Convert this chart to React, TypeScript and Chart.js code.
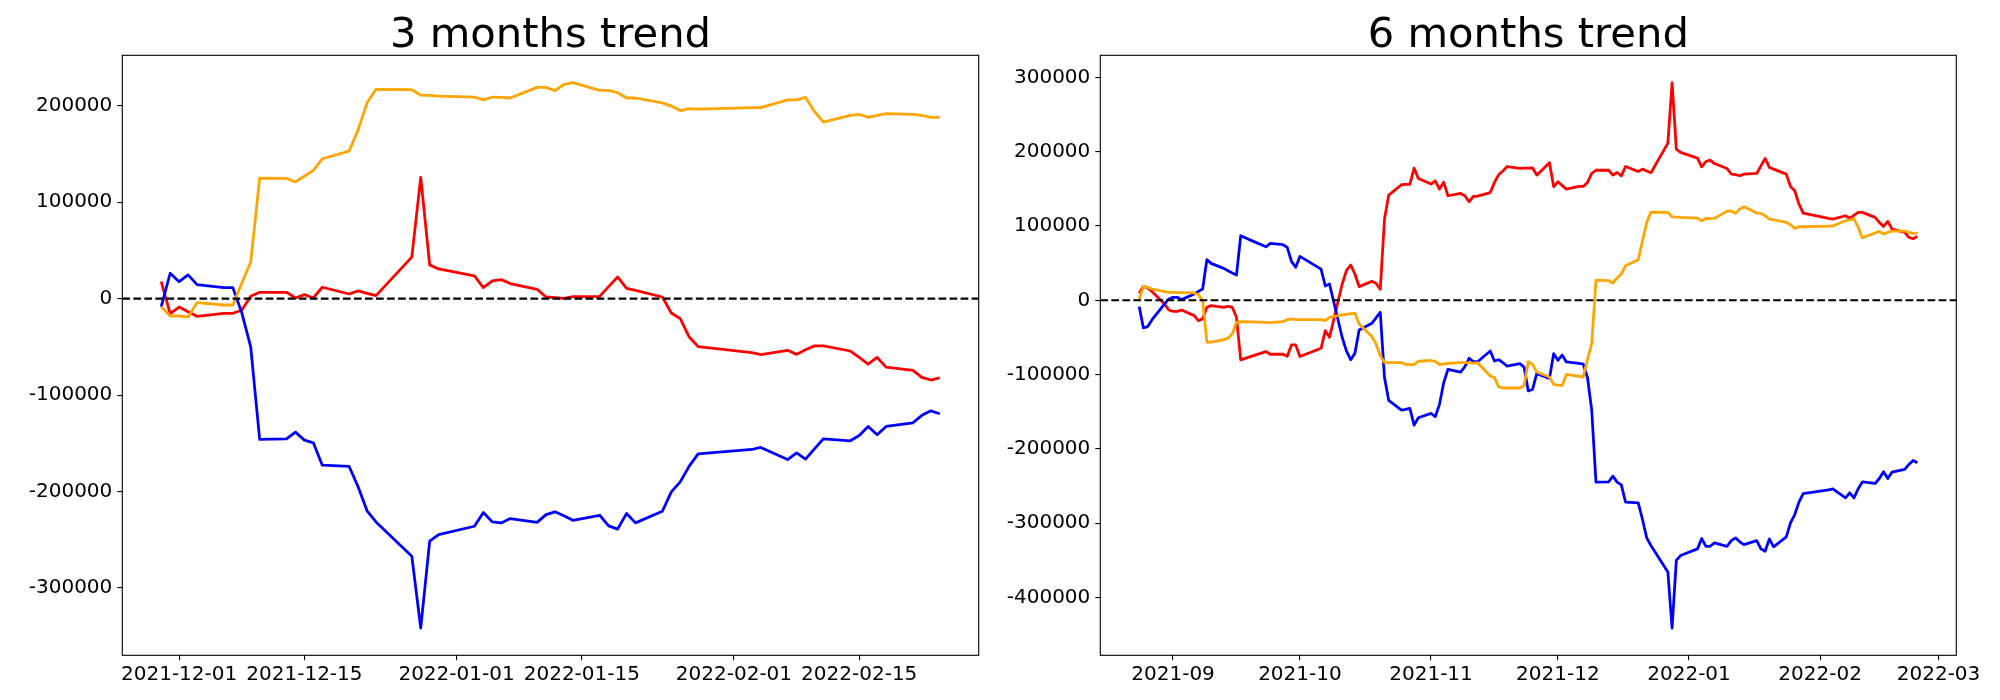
import React, { useEffect, useRef } from 'react';
import { Chart, registerables } from 'chart.js';

Chart.register(...registerables);

const FONT = "'DejaVu Sans', sans-serif";

// ---------- 3 months trend ----------
const dates3m = [
  '2021-11-29', '2021-11-30',
  '2021-12-01', '2021-12-02', '2021-12-03', '2021-12-06', '2021-12-07', '2021-12-08', '2021-12-09', '2021-12-10',
  '2021-12-13', '2021-12-14', '2021-12-15', '2021-12-16', '2021-12-17', '2021-12-20', '2021-12-21', '2021-12-22',
  '2021-12-23', '2021-12-27', '2021-12-28', '2021-12-29', '2021-12-30',
  '2022-01-03', '2022-01-04', '2022-01-05', '2022-01-06', '2022-01-07', '2022-01-10', '2022-01-11', '2022-01-12',
  '2022-01-13', '2022-01-14', '2022-01-17', '2022-01-18', '2022-01-19', '2022-01-20', '2022-01-21', '2022-01-24',
  '2022-01-25', '2022-01-26', '2022-01-27', '2022-01-28',
  '2022-02-03', '2022-02-04', '2022-02-07', '2022-02-08', '2022-02-09', '2022-02-10', '2022-02-11', '2022-02-14',
  '2022-02-15', '2022-02-16', '2022-02-17', '2022-02-18', '2022-02-21', '2022-02-22', '2022-02-23', '2022-02-24',
];

const orange3m = [
  -8300, -18000, -18000, -19000, -4200, -6600, -6600, 16000, 38000, 125000,
  124600, 121000, 127000, 133000, 145000, 153000, 175000, 203000, 217000, 216600,
  211000, 210700, 210000, 209000, 206000, 209000, 208600, 208000, 219000, 219000,
  215600, 222000, 224000, 216000, 216000, 213500, 208000, 208000, 203000, 199600,
  195000, 197000, 196500, 198000, 198000, 206000, 206000, 208600, 194000, 183000,
  190000, 191000, 188000, 190000, 191700, 191000, 190000, 188000, 188000,
];

const red3m = [
  17600, -15600, -8700, -13500, -18300, -15200, -15200, -12000, 2400, 6600,
  6600, 700, 4200, 700, 11800, 4800, 8000, 5500, 3100, 43000,
  125600, 35000, 30800, 23500, 11400, 18300, 19700, 15600, 9700, 1700,
  1000, 300, 2000, 2400, 12500, 22500, 10700, 8600, 1700, -14900,
  -20800, -39800, -49800, -56000, -58000, -53600, -57800, -53000, -49000, -49000,
  -54300, -61000, -68000, -61000, -71000, -74400, -81600, -84400, -82000,
];

const blue3m = [
  -8300, 26300, 17600, 24600, 14500, 11400, 11400, -14500, -50000, -146000,
  -145500, -138400, -146700, -149500, -172700, -174000, -195000, -220000, -231500, -267000,
  -341500, -251500, -244600, -236000, -221800, -231500, -232500, -228000, -232000, -223900,
  -221000, -225000, -229800, -224600, -235600, -239000, -222800, -232500, -220400, -200300,
  -190000, -173700, -161000, -156400, -154300, -166800, -160000, -166400, -155700, -145300,
  -147400, -141900, -132500, -141200, -132500, -128700, -121000, -116300, -119400,
];

const xTicks3m = ['2021-12-01', '2021-12-15', '2022-01-01', '2022-01-15', '2022-02-01', '2022-02-15'];
const xTickLabels3m = ['2021-12-01', '2021-12-15', '2022-01-01', '2022-01-15', '2022-02-01', '2022-02-15'];
const yTicks3m = [-300000, -200000, -100000, 0, 100000, 200000];

// ---------- 6 months trend ----------
const dates6m = [
  '2021-08-24', '2021-08-25', '2021-08-26', '2021-08-27', '2021-08-30', '2021-08-31',
  '2021-09-01', '2021-09-02', '2021-09-03', '2021-09-06', '2021-09-07', '2021-09-08', '2021-09-09', '2021-09-10',
  '2021-09-13', '2021-09-14', '2021-09-15', '2021-09-16', '2021-09-17', '2021-09-20', '2021-09-23', '2021-09-24',
  '2021-09-27', '2021-09-28', '2021-09-29', '2021-09-30',
  '2021-10-01', '2021-10-06', '2021-10-07', '2021-10-08', '2021-10-11', '2021-10-12', '2021-10-13', '2021-10-14',
  '2021-10-15', '2021-10-18', '2021-10-19', '2021-10-20', '2021-10-21', '2021-10-22', '2021-10-25', '2021-10-26',
  '2021-10-27', '2021-10-28', '2021-10-29',
  '2021-11-01', '2021-11-02', '2021-11-03', '2021-11-04', '2021-11-05', '2021-11-08', '2021-11-09', '2021-11-10',
  '2021-11-11', '2021-11-12', '2021-11-15', '2021-11-16', '2021-11-17', '2021-11-18', '2021-11-19', '2021-11-22',
  '2021-11-23', '2021-11-24', '2021-11-25', '2021-11-26', '2021-11-29', '2021-11-30',
  '2021-12-01', '2021-12-02', '2021-12-03', '2021-12-06', '2021-12-07', '2021-12-08', '2021-12-09', '2021-12-10',
  '2021-12-13', '2021-12-14', '2021-12-15', '2021-12-16', '2021-12-17', '2021-12-20', '2021-12-21', '2021-12-22',
  '2021-12-23', '2021-12-27', '2021-12-28', '2021-12-29', '2021-12-30',
  '2022-01-03', '2022-01-04', '2022-01-05', '2022-01-06', '2022-01-07', '2022-01-10', '2022-01-11', '2022-01-12',
  '2022-01-13', '2022-01-14', '2022-01-17', '2022-01-18', '2022-01-19', '2022-01-20', '2022-01-21', '2022-01-24',
  '2022-01-25', '2022-01-26', '2022-01-27', '2022-01-28',
  '2022-02-03', '2022-02-04', '2022-02-07', '2022-02-08', '2022-02-09', '2022-02-10', '2022-02-11', '2022-02-14',
  '2022-02-15', '2022-02-16', '2022-02-17', '2022-02-18', '2022-02-21', '2022-02-22', '2022-02-23', '2022-02-24',
];

const red6m = [
  // Aug
  9400, 18800, 16600, 12000, -4900, -13000,
  // Sep
  -14800, -14800, -13000, -20600, -27300, -25000, -9400, -7200, -9400, -8000,
  -9400, -22800, -80200, -74400, -69000, -72600, -72600, -75300, -60000, -60000,
  // Oct
  -75700, -64500, -40800, -49700, 22000, 39900, 47500, 35400, 18400, 25500,
  22800, 14800, 109300, 141600, 155500, 156000, 156000, 177900, 164000,
  // Nov
  156400, 160800, 149600, 159000, 140700, 143800, 140700, 132600, 139800, 140200,
  145000, 158600, 168900, 174000, 180000, 177600, 178000, 178000, 178300, 168400,
  185000, 152800,
  // Dec
  159500, 154600, 149600, 153200, 153200, 158600, 170700, 175000, 175000, 168400,
  172000, 167500, 180000, 173400, 176500, 174000, 171600, 211500, 293000, 203400,
  199000,
  // Jan
  191300, 179600, 186800, 188600, 184000, 177400, 169800, 169000, 167600, 169800,
  170700, 181000, 190800, 178800, 176500, 169800, 153200, 147400, 129500, 117400,
  // Feb
  110200, 109300, 113800, 110200, 114200, 118300, 118300, 111600, 104800, 99500,
  106200, 95900, 91400, 84700, 82900, 86000,
];

const orange6m = [
  // Aug
  1800, 18800, 17500, 15200, 11600, 10800,
  // Sep
  10800, 10300, 10300, 9900, 7600, -400, -56400, -56400, -52900, -51000,
  -45200, -29600, -28700, -29000, -29600, -30000, -28700, -26000, -25000, -26000,
  // Oct
  -26000, -26000, -27300, -22800, -19700, -18800, -18000, -17500, -31800, -48800,
  -58700, -74400, -83800, -83800, -83800, -86500, -86500, -86500, -82000,
  // Nov
  -81000, -82000, -86500, -85600, -85000, -84000, -83800, -83800, -84700, -84000,
  -101900, -104000, -116300, -118000, -118000, -118000, -114500, -82600, -86200, -96500,
  -103300, -113000,
  // Dec
  -114000, -114500, -99700, -102400, -103300, -79500, -58000, 27300, 26400, 23300,
  30000, 35400, 46600, 54700, 80200, 104800, 118700, 118300, 112400, 112000,
  111600,
  // Jan
  110700, 107000, 110200, 109800, 110200, 120000, 120000, 117000, 122800, 125900,
  117400, 117000, 113800, 109300, 108400, 104800, 101700, 96800, 99000, 99000,
  // Feb
  99900, 99900, 107000, 108400, 109800, 98000, 84200, 90500, 92700, 89200,
  91400, 93200, 93200, 91400, 90000, 90000,
];

const blue6m = [
  // Aug
  -8500, -37200, -35400, -26400, -4900, 1800,
  // Sep
  4000, 4000, 900, 8500, 12000, 15200, 54700, 49700, 43000, 39900,
  36700, 34000, 86900, 79300, 72000, 76600, 74800, 71200, 52400, 44400,
  // Oct
  59100, 42000, 19300, 22000, -50000, -68000, -80000, -71400, -39900, -30900,
  -23700, -16100, -104000, -134700, -147700, -146800, -145500, -168000, -158000,
  // Nov
  -152200, -156700, -140000, -111000, -93000, -96500, -89400, -78000, -82600, -82600,
  -68200, -81700, -80000, -84000, -88500, -85300, -89800, -122000, -120000, -98800,
  -105000, -71800,
  // Dec
  -80800, -73600, -83000, -84900, -85800, -104000, -148000, -244700, -244300, -236600,
  -244700, -248300, -271600, -272500, -295000, -319700, -330000, -365500, -441000, -350000,
  -343500,
  // Jan
  -334500, -320600, -331000, -331000, -326400, -331000, -323300, -319700, -325000, -328700,
  -323300, -334500, -337700, -321000, -331800, -318400, -299500, -288300, -271600, -260000,
  // Feb
  -255000, -253700, -265800, -259000, -265800, -253700, -244300, -246500, -239800, -230800,
  -239800, -231300, -227600, -220900, -215500, -218700,
];

const xTicks6m = ['2021-09-01', '2021-10-01', '2021-11-01', '2021-12-01', '2022-01-01', '2022-02-01', '2022-03-01'];
const xTickLabels6m = ['2021-09', '2021-10', '2021-11', '2021-12', '2022-01', '2022-02', '2022-03'];
const yTicks6m = [-400000, -300000, -200000, -100000, 0, 100000, 200000, 300000];

const toDay = (s: string) => {
  const [y, m, d] = s.split('-').map(Number);
  return Date.UTC(y, m - 1, d) / 864e5;
};

type PanelProps = {
  left: number;
  width: number;
  plotLeft: number;
  plotRight: number;
  title: string;
  dates: string[];
  red: number[];
  blue: number[];
  orange: number[];
  xTickDates: string[];
  xTickLabels: string[];
  yTickValues: number[];
};

function Panel(p: PanelProps) {
  const ref = useRef<HTMLCanvasElement | null>(null);
  useEffect(() => {
    if (!ref.current) return;
    const xs = p.dates.map(toDay);
    const xMin0 = Math.min(...xs);
    const xMax0 = Math.max(...xs);
    const xPad = (xMax0 - xMin0) * 0.05;
    const all = [...p.red, ...p.blue, ...p.orange];
    const yMin0 = Math.min(...all);
    const yMax0 = Math.max(...all);
    const yPad = (yMax0 - yMin0) * 0.05;
    const tickVals = p.xTickDates.map(toDay);

    const mk = (vals: number[], color: string) => ({
      data: xs.map((x, i) => ({ x, y: vals[i] })),
      borderColor: color,
      backgroundColor: color,
      borderWidth: 2.78,
      pointRadius: 0,
      tension: 0,
      fill: false,
      borderJoinStyle: 'round' as const,
      borderCapStyle: 'butt' as const,
    });

    const framePlugin = {
      id: 'frameAndTitle',
      afterDatasetsDraw(chart: any) {
        const { ctx, chartArea, scales } = chart;
        const y0 = scales.y.getPixelForValue(0);
        ctx.save();
        ctx.strokeStyle = '#000';
        ctx.lineWidth = 2.08;
        ctx.setLineDash([7.7, 3.33]);
        ctx.beginPath();
        ctx.moveTo(chartArea.left, y0);
        ctx.lineTo(chartArea.right, y0);
        ctx.stroke();
        ctx.restore();
      },
      afterDraw(chart: any) {
        const { ctx, chartArea } = chart;
        ctx.save();
        ctx.strokeStyle = '#000';
        ctx.lineWidth = 1.1;
        ctx.setLineDash([]);
        ctx.strokeRect(chartArea.left, chartArea.top, chartArea.right - chartArea.left, chartArea.bottom - chartArea.top);
        ctx.fillStyle = '#000';
        ctx.font = `41.7px ${FONT}`;
        ctx.textAlign = 'center';
        ctx.textBaseline = 'alphabetic';
        ctx.fillText(p.title, (chartArea.left + chartArea.right) / 2, 47);
        ctx.restore();
      },
    };

    const chart = new Chart(ref.current, {
      type: 'line',
      data: {
        datasets: [mk(p.orange, 'orange'), mk(p.blue, 'blue'), mk(p.red, 'red')] as any,
      },
      options: {
        animation: false,
        responsive: false,
        devicePixelRatio: 1,
        layout: { padding: { left: 0, right: p.width - p.plotRight, top: 55.3, bottom: 0 } },
        plugins: {
          legend: { display: false },
          tooltip: { enabled: false },
          title: { display: false },
        },
        scales: {
          x: {
            type: 'linear',
            min: xMin0 - xPad,
            max: xMax0 + xPad,
            afterBuildTicks: (s: any) => {
              s.ticks = tickVals.map((v) => ({ value: v }));
            },
            afterFit: (s: any) => {
              s.height = 700 - 655.3;
            },
            ticks: {
              autoSkip: false,
              maxRotation: 0,
              minRotation: 0,
              padding: 2,
              color: '#000',
              font: { family: FONT, size: 20 },
              callback: (_v: any, i: number) => p.xTickLabels[i],
            },
            grid: { drawOnChartArea: false, drawTicks: true, tickLength: 5, color: '#000', lineWidth: 1.1 },
            border: { display: false },
          },
          y: {
            type: 'linear',
            min: yMin0 - yPad,
            max: yMax0 + yPad,
            afterBuildTicks: (s: any) => {
              s.ticks = p.yTickValues.map((v) => ({ value: v }));
            },
            afterFit: (s: any) => {
              s.width = p.plotLeft;
            },
            ticks: {
              autoSkip: false,
              padding: 5,
              color: '#000',
              font: { family: FONT, size: 20 },
              callback: (v: any) => String(v),
            },
            grid: { drawOnChartArea: false, drawTicks: true, tickLength: 5, color: '#000', lineWidth: 1.1 },
            border: { display: false },
          },
        },
      } as any,
      plugins: [framePlugin],
    });
    return () => chart.destroy();
  }, []);
  return (
    <canvas
      ref={ref}
      width={p.width}
      height={700}
      style={{ position: 'absolute', left: p.left, top: 0, width: p.width, height: 700 }}
    />
  );
}

export default function App() {
  return (
    <div style={{ position: 'absolute', left: 0, top: 0, width: 2000, height: 700, background: '#fff' }}>
      <Panel
        left={0}
        width={1000}
        plotLeft={122.3}
        plotRight={978.7}
        title="3 months trend"
        dates={dates3m}
        red={red3m}
        blue={blue3m}
        orange={orange3m}
        xTickDates={xTicks3m}
        xTickLabels={xTickLabels3m}
        yTickValues={yTicks3m}
      />
      <Panel
        left={1000}
        width={1000}
        plotLeft={100.3}
        plotRight={956.3}
        title="6 months trend"
        dates={dates6m}
        red={red6m}
        blue={blue6m}
        orange={orange6m}
        xTickDates={xTicks6m}
        xTickLabels={xTickLabels6m}
        yTickValues={yTicks6m}
      />
    </div>
  );
}
